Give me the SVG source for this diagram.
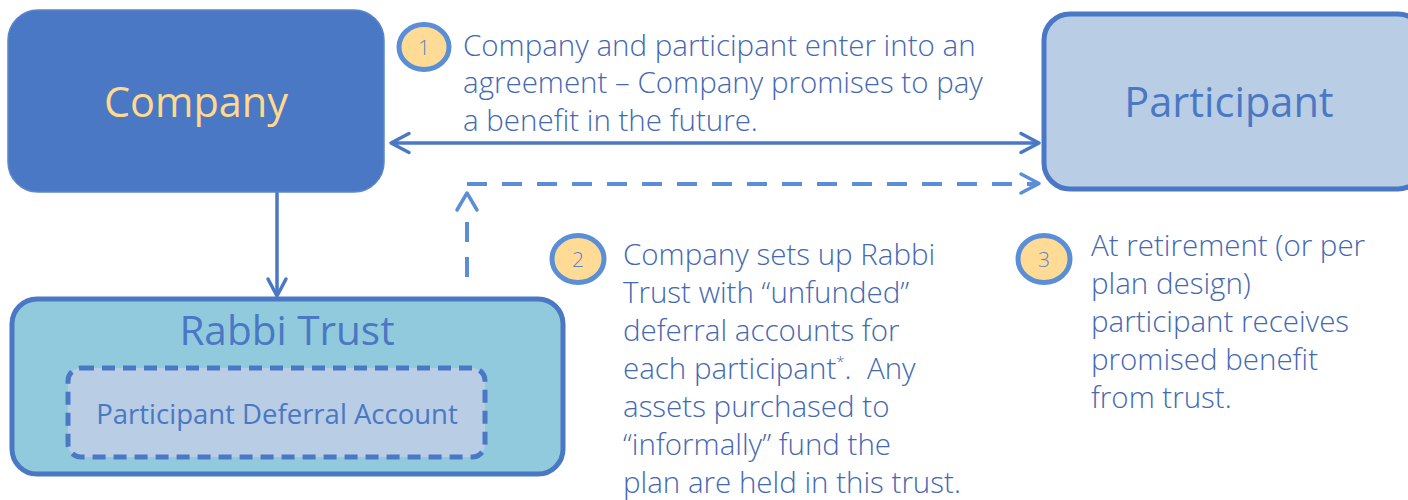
<svg xmlns="http://www.w3.org/2000/svg" width="1408" height="500" viewBox="0 0 1408 500">
  <defs>
    <style>
      .box-company { fill: #4A78C4; stroke: #5C86CC; stroke-width: 1.5; }
      .box-light { fill: #B9CDE5; stroke: #4A78C4; stroke-width: 5; }
      .box-trust { fill: #92CADD; stroke: #4A78C4; stroke-width: 5; }
      .box-inner { fill: #B9CDE5; stroke: #4A78C4; stroke-width: 5; stroke-dasharray: 13 8; }
      .title { font-family: "Segoe UI", "Open Sans", "Noto Sans", sans-serif; text-anchor: middle; }
      .note { font-family: "Segoe UI", "Open Sans", "Noto Sans", sans-serif; font-weight: 300; font-size: 29.5px; fill: #4468B2; }
      .badge { fill: #FFDB96; stroke: #5A8FD7; stroke-width: 5; }
      .badge-num { font-family: "Segoe UI", "Open Sans", sans-serif; font-weight: 300; font-size: 21px; fill: #5B82C9; text-anchor: middle; }
      .solid { fill: none; stroke: #4A78C4; stroke-width: 3.5; }
      .dashed { fill: none; stroke: #5A8FD7; stroke-width: 4; stroke-dasharray: 20 15; }
      .head { fill: none; stroke-width: 3.5; stroke-linecap: round; stroke-linejoin: round; }
    </style>
  </defs>

  <!-- connectors -->
  <g id="connectors">
    <!-- agreement: Company <-> Participant -->
    <line class="solid" x1="392" y1="143" x2="1038" y2="143"/>
    <polyline class="head" stroke="#4A78C4" points="409,133.5 391,143 409,152.5"/>
    <polyline class="head" stroke="#4A78C4" points="1021,133.5 1039,143 1021,152.5"/>
    <!-- Company -> Rabbi Trust -->
    <line class="solid" x1="277" y1="192" x2="277" y2="295" stroke-width="3"/>
    <polyline class="head" stroke="#4A78C4" points="268,279 277,296 286,279"/>
    <!-- Rabbi Trust -> Participant (dashed) -->
    <path class="dashed" d="M467,277 V217"/>
    <path class="dashed" d="M467,184 H1036"/>
    <polyline class="head" stroke="#5A8FD7" points="457,210 467,193 477,210"/>
    <polyline class="head" stroke="#5A8FD7" points="1021,174 1039,183.5 1021,193"/>
  </g>

  <!-- Company -->
  <g id="company">
    <rect class="box-company" x="8" y="10" width="376" height="182" rx="30"/>
    <text class="title" x="196" y="117" font-size="41.5" fill="#FFD98C">Company</text>
  </g>

  <!-- Participant -->
  <g id="participant">
    <rect class="box-light" x="1044" y="14" width="380" height="175" rx="26"/>
    <text class="title" x="1229" y="117" font-size="41.5" fill="#4A78C4">Participant</text>
  </g>

  <!-- Rabbi Trust with inner deferral account -->
  <g id="rabbi-trust">
    <rect class="box-trust" x="12" y="299" width="551" height="175" rx="25"/>
    <text class="title" x="287" y="345" font-size="40.5" fill="#4A78C4">Rabbi Trust</text>
  </g>
  <g id="deferral-account">
    <rect class="box-inner" x="68" y="368" width="417" height="89" rx="13"/>
    <text class="title" x="277" y="424" font-size="27.5" fill="#4A78C4">Participant Deferral Account</text>
  </g>

  <!-- step 1 -->
  <g id="step-1">
    <ellipse class="badge" cx="424" cy="47" rx="25" ry="22.5"/>
    <text class="badge-num" x="424" y="55">1</text>
    <text class="note">
      <tspan x="463" y="56">Company and participant enter into an</tspan>
      <tspan x="463" y="93">agreement – Company promises to pay</tspan>
      <tspan x="463" y="131">a benefit in the future.</tspan>
    </text>
  </g>

  <!-- step 2 -->
  <g id="step-2">
    <ellipse class="badge" cx="578" cy="259" rx="26" ry="23.5"/>
    <text class="badge-num" x="578" y="267">2</text>
    <text class="note">
      <tspan x="623" y="265">Company sets up Rabbi</tspan>
      <tspan x="623" y="303">Trust with “unfunded”</tspan>
      <tspan x="623" y="341">deferral accounts for</tspan>
      <tspan x="623" y="379">each participant<tspan font-size="15" dy="-12">*</tspan><tspan dy="12">.&#160; Any</tspan></tspan>
      <tspan x="623" y="417">assets purchased to</tspan>
      <tspan x="623" y="455">“informally” fund the</tspan>
      <tspan x="623" y="493">plan are held in this trust.</tspan>
    </text>
  </g>

  <!-- step 3 -->
  <g id="step-3">
    <ellipse class="badge" cx="1044" cy="259" rx="26" ry="23.5"/>
    <text class="badge-num" x="1044" y="267">3</text>
    <text class="note">
      <tspan x="1091" y="256">At retirement (or per</tspan>
      <tspan x="1091" y="294">plan design)</tspan>
      <tspan x="1091" y="332">participant receives</tspan>
      <tspan x="1091" y="370">promised benefit</tspan>
      <tspan x="1091" y="408">from trust.</tspan>
    </text>
  </g>
</svg>
